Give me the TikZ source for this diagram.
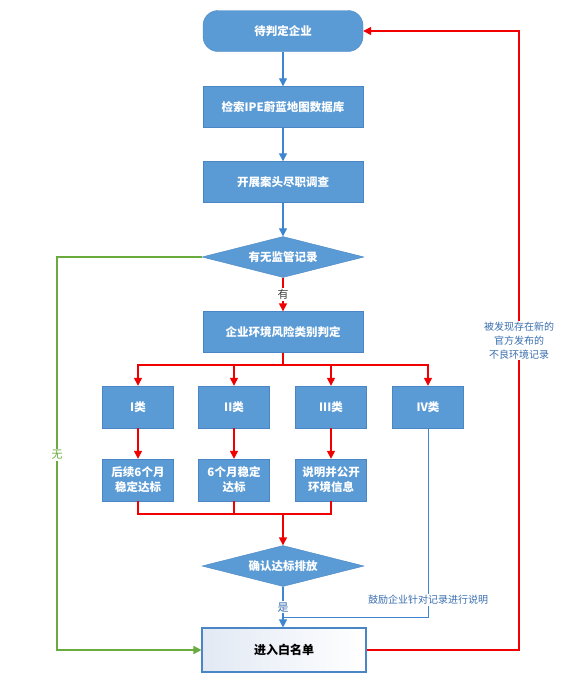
\documentclass[tikz,border=0pt]{standalone}
\usepackage{fontspec}
\setmainfont{Noto Sans CJK SC}
\usetikzlibrary{shapes.geometric,arrows.meta}

\definecolor{boxblue}{HTML}{5B9BD5}
\definecolor{boxline}{HTML}{4A86C5}
\definecolor{flowblue}{HTML}{3F86D0}
\definecolor{flowred}{HTML}{F00000}
\definecolor{flowgreen}{HTML}{6AAB3E}
\definecolor{notetext}{HTML}{3A6FAF}
\definecolor{listtint}{HTML}{E2E9F4}

\tikzset{
  stepbox/.style={draw=boxline,fill=boxblue,text=white,
    font=\bfseries\fontsize{11.5}{15}\selectfont,
    minimum width=160pt,minimum height=41pt,inner sep=2pt,align=center},
  startbox/.style={stepbox,rounded corners=15pt},
  classbox/.style={stepbox,minimum width=71pt,minimum height=42pt},
  decision/.style={diamond,aspect=4,draw=boxline,fill=boxblue,text=white,
    font=\bfseries\fontsize{11.5}{15}\selectfont,
    minimum width=162pt,minimum height=41pt,inner sep=0pt},
  listbox/.style={draw=boxline,line width=1.1pt,left color=listtint,right color=white,
    font=\bfseries\fontsize{12}{14}\selectfont,
    minimum width=164pt,minimum height=44pt},
  blueflow/.style={draw=flowblue,line width=1.2pt,-{Triangle[width=8pt,length=8pt]}},
  redflow/.style={draw=flowred,line width=1.4pt,-{Triangle[width=8pt,length=8pt]}},
  redline/.style={draw=flowred,line width=1.4pt},
  greenflow/.style={draw=flowgreen,line width=1.4pt,-{Triangle[width=8pt,length=8pt]}},
  lbl/.style={fill=white,inner sep=1pt,font=\fontsize{11}{13}\selectfont},
  note/.style={fill=white,inner sep=1pt,text=notetext,align=center,
    font=\fontsize{10}{14}\selectfont}
}

\begin{document}
\begin{tikzpicture}[x=1pt,y=-1pt]
\fill[white] (0,0) rectangle (582,681);
\useasboundingbox (0,0) rectangle (582,681);

% main column
\node[startbox] (start) at (283,31) {待判定企业};
\node[stepbox] (search) at (283,107) {检索IPE蔚蓝地图数据库};
\node[stepbox] (survey) at (283,182) {开展案头尽职调查};
\node[decision] (record) at (283,257) {有无监管记录};
\node[stepbox] (risk) at (283,332) {企业环境风险类别判定};
\node[decision] (confirm) at (283,566) {确认达标排放};
\node[listbox] (white) at (284,650) {进入白名单};

% classes and results
\foreach \n/\x/\t in {c1/138/I类,c2/234/II类,c3/331/III类,c4/428/IV类}
  \node[classbox] (\n) at (\x,407) {\t};
\foreach \n/\x/\t in {r1/138/{后续6个月\\稳定达标},r2/234/{6个月稳定\\达标},r3/331/{说明并公开\\环境信息}}
  \node[classbox] (\n) at (\x,480) {\t};

\coordinate (split) at (283,365);
\coordinate (merge) at (283,514);
\coordinate (join) at (283,617);
\coordinate (nobend) at (57,257);
\coordinate (backtop) at (519,31);

\draw[blueflow] (start) -- (search);
\draw[blueflow] (search) -- (survey);
\draw[blueflow] (survey) -- (record);
\draw[redflow] (record) -- node[lbl,text=black!75]{有} (risk);

\foreach \n in {c1,c2,c3,c4}
  \draw[redflow] (risk.south) |- (split -| \n) -- (\n.north);
\foreach \i in {1,2,3}
{
  \draw[redflow] (c\i) -- (r\i);
  \draw[redline] (r\i.south) |- (merge);
}
\draw[redflow] (merge) -- (confirm.north);

\draw[blueflow] (confirm.south) -- node[lbl,text=notetext,pos=0.5]{是} (confirm.south |- white.north);
\draw[draw=flowblue,line width=1pt] (c4.south) |- node[note,pos=0.455]{鼓励企业针对记录进行说明} (join);

\draw[greenflow] (record.west) -- (nobend) |- node[lbl,text=flowgreen,pos=0.252]{无} (white.west);
\draw[redflow] (white.east) -| node[note,pos=0.75]{被发现存在新的\\官方发布的\\不良环境记录} (backtop) -- (start.east);
\end{tikzpicture}
\end{document}
